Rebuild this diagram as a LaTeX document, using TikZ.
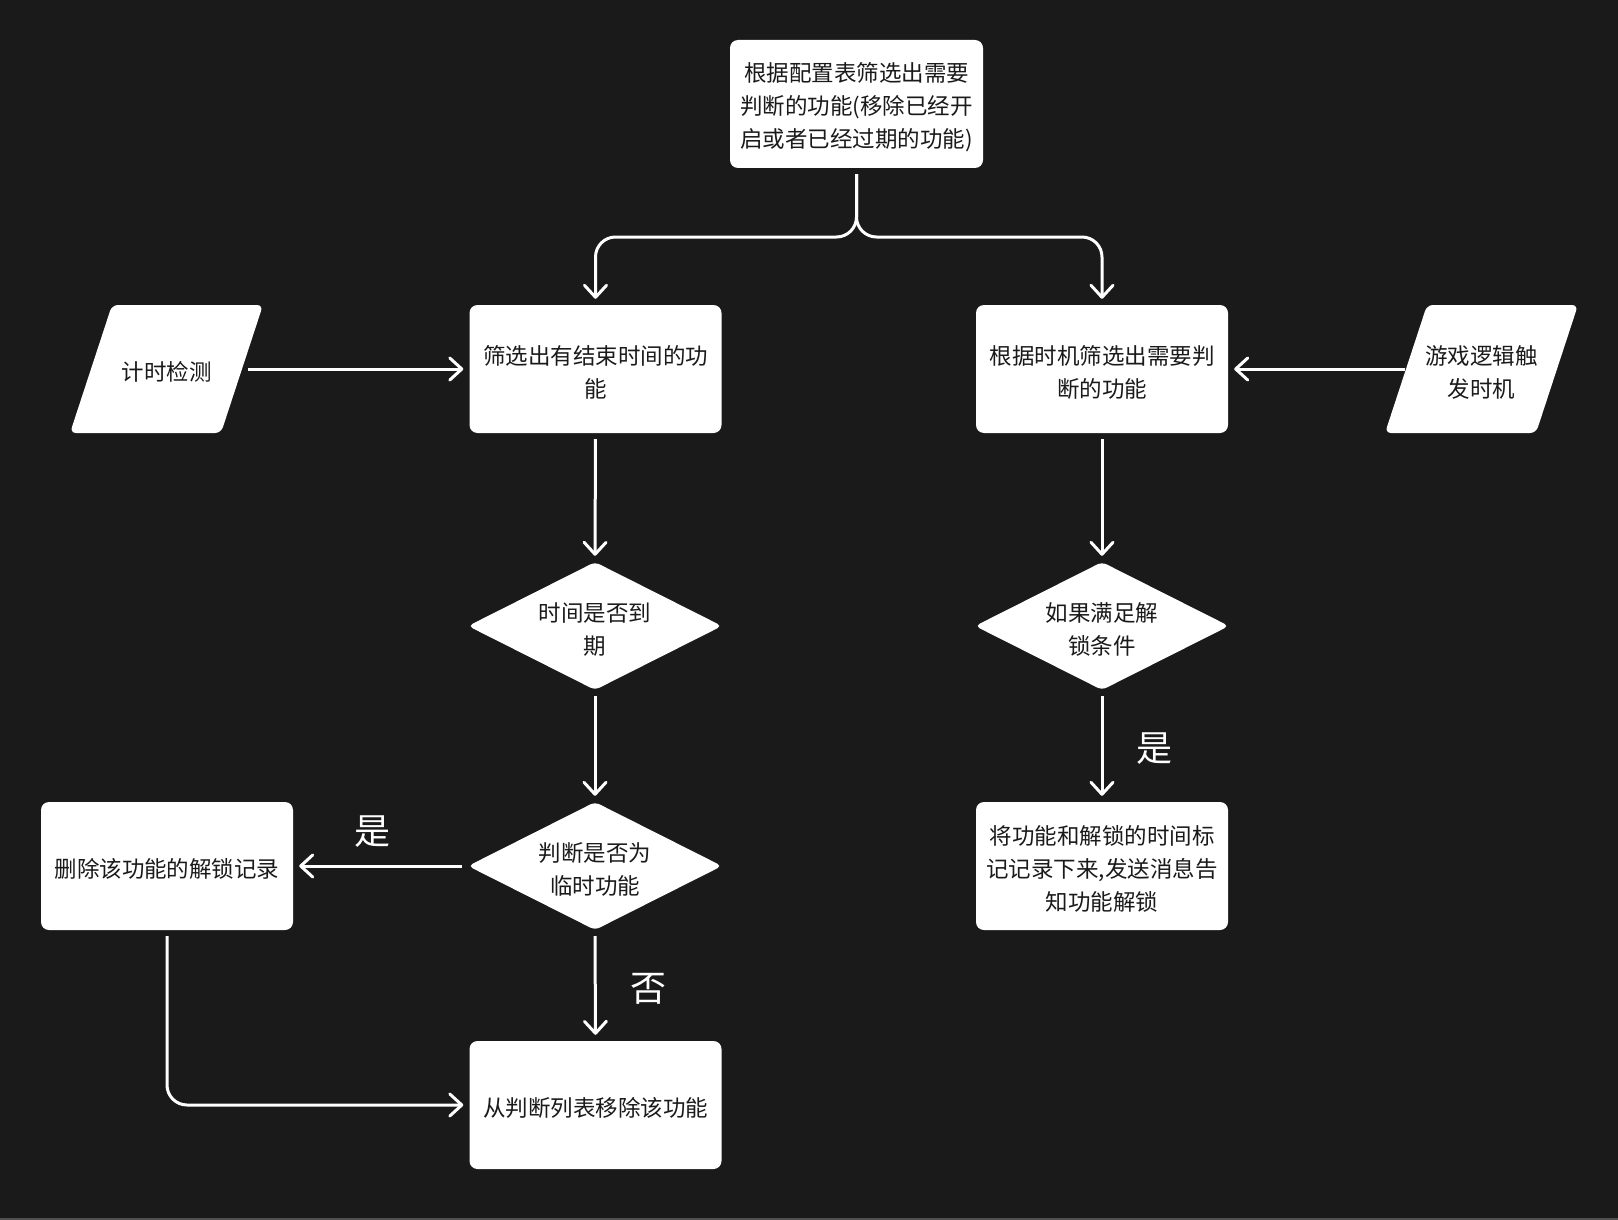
\documentclass[tikz,border=0pt]{standalone}
\usepackage{fontspec}
\setmainfont{Noto Sans CJK SC}
\usetikzlibrary{shapes.geometric,arrows.meta}
\definecolor{bg}{HTML}{1A1A1A}
\definecolor{ink}{HTML}{1A1A1A}
\definecolor{strip}{HTML}{505050}
% strut that lowers the first text line a little
\newcommand\firstline{\rule{0pt}{25pt}}
\begin{document}
\begin{tikzpicture}[x=1pt,y=-1pt,
  nodefont/.style={font=\fontsize{22.5}{33}\selectfont},
  box/.style={fill=white, rounded corners=8pt, minimum width=252pt, minimum height=128pt,
    inner sep=0pt, align=center, text=ink, nodefont},
  dec/.style={diamond, fill=white, rounded corners=5pt, aspect=2, minimum width=254pt,
    minimum height=128pt, inner sep=0pt, align=center, text=ink, nodefont},
  iotext/.style={minimum width=153pt, minimum height=128pt, inner sep=0pt,
    align=center, text=ink, nodefont},
  ioshape/.style={fill=white, rounded corners=6pt},
  conn/.style={draw=white, line width=3pt,
    -{Straight Barb[length=12pt,width=22pt,line join=round,line cap=round]},
    shorten <=6pt, shorten >=6pt},
  lbl/.style={text=white, font=\fontsize{36}{40}\selectfont}
]
% canvas
\fill[bg] (0,0) rectangle (1618,1220);
\fill[strip] (0,1217.5) rectangle (1618,1220);

% input/output parallelograms
\fill[ioshape] (70,433) -- (112,305) -- (263,305) -- (221,433) -- cycle;
\fill[ioshape] (1385,433) -- (1427,305) -- (1578,305) -- (1536,433) -- cycle;
\node[iotext] (chk) at (166.5,369) {\firstline 计时检测};
\node[iotext] (game) at (1481.5,369) {\firstline 游戏逻辑触\\发时机};

% process and decision nodes
\node[box, minimum width=253pt] (cfg) at (856.5,104) {\firstline 根据配置表筛选出需要\\判断的功能(移除已经开\\启或者已经过期的功能)};
\node[box] (endt) at (595.5,369) {\firstline 筛选出有结束时间的功\\能};
\node[box] (tim) at (1102,369) {\firstline 根据时机筛选出需要判\\断的功能};
\node[dec] (exp) at (595,626) {\firstline 时间是否到\\期};
\node[dec] (cond) at (1102,626) {\firstline 如果满足解\\锁条件};
\node[dec] (tmp) at (595,866) {\firstline 判断是否为\\临时功能};
\node[box] (del) at (167,866) {\firstline 删除该功能的解锁记录};
\node[box] (rec) at (1102,866) {\firstline 将功能和解锁的时间标\\记记录下来,发送消息告\\知功能解锁};
\node[box] (rm) at (595.5,1105) {\firstline 从判断列表移除该功能};

% connectors
\draw[conn, rounded corners=20pt] (cfg.south) |- (595.5,237) -- (endt.north);
\draw[conn, rounded corners=20pt] (cfg.south) |- (1102,237) -- (tim.north);
\draw[conn, shorten <=5pt] (chk.east) -- (endt.west);
\draw[conn, shorten <=0pt] (game.west) -- (tim.east);
\draw[conn] (endt.south) -- (exp.north);
\draw[conn] (exp.south) -- (tmp.north);
\draw[conn] (tmp.west) -- (del.east);
\draw[conn] (tmp.south) -- (rm.north);
\draw[conn, rounded corners=20pt] (del.south) |- (rm.west);
\draw[conn] (tim.south) -- (cond.north);
\draw[conn] (cond.south) -- (rec.north);

% branch labels
\node[lbl] (yes1) at (372,832) {是};
\node[lbl] (no1) at (648,989) {否};
\node[lbl] (yes2) at (1154,749) {是};
\end{tikzpicture}
\end{document}
